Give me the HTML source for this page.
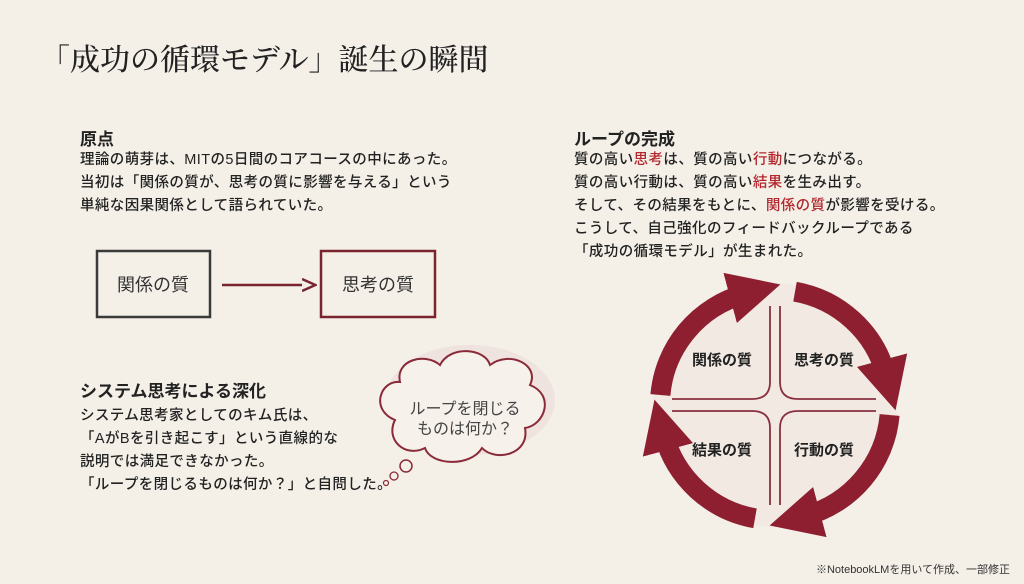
<!DOCTYPE html>
<html><head><meta charset="utf-8"><style>
body{margin:0;width:1024px;height:584px;background:#f4f0e8;overflow:hidden;position:relative;font-family:"Liberation Sans","Noto Sans CJK JP",sans-serif;color:#222}
.a{position:absolute;white-space:nowrap}
h1{position:absolute;left:40px;top:35px;margin:0;font-family:"Liberation Serif","Noto Serif CJK SC",serif;font-weight:500;font-size:30px;color:#222}
.h{font-weight:bold;font-size:17px}
.b{font-size:14.5px;line-height:23px;font-weight:500;letter-spacing:.4px}
.r{color:#b3282d}
</style></head><body>
<h1>「成功の循環モデル」誕生の瞬間</h1>
<div class="a h" style="left:80px;top:125px">原点</div>
<div class="a b" style="left:80px;top:149px">理論の萌芽は、MITの5日間のコアコースの中にあった。<br>当初は「関係の質が、思考の質に影響を与える」という<br>単純な因果関係として語られていた。</div>
<div class="a h" style="left:574px;top:125px">ループの完成</div>
<div class="a b" style="left:574px;top:149px">質の高い<span class="r">思考</span>は、質の高い<span class="r">行動</span>につながる。<br>質の高い行動は、質の高い<span class="r">結果</span>を生み出す。<br>そして、その結果をもとに、<span class="r">関係の質</span>が影響を受ける。<br>こうして、自己強化のフィードバックループである<br>「成功の循環モデル」が生まれた。</div>
<div class="a h" style="left:80px;top:377px">システム思考による深化</div>
<div class="a b" style="left:80px;top:405px">システム思考家としてのキム氏は、<br>「AがBを引き起こす」という直線的な<br>説明では満足できなかった。<br>「ループを閉じるものは何か？」と自問した。</div>
<svg class="a" style="left:0;top:0" width="1024" height="584">
<defs><marker id="m" viewBox="0 0 10 10" refX="3" refY="5" markerWidth="2.6" markerHeight="2.8" orient="auto"><path d="M0,0 L10,5 L0,10 z" fill="#8e1f30"/></marker>
<marker id="s" viewBox="0 0 10 10" refX="0" refY="5" markerWidth="6" markerHeight="6" orient="auto"><path d="M0,1 L9,5 L0,9" fill="none" stroke="#7a2430" stroke-width="1.6"/></marker></defs>
<rect x="97" y="251" width="113" height="66" fill="none" stroke="#3a3a3a" stroke-width="2.5"/>
<rect x="321" y="251" width="114" height="66" fill="none" stroke="#7a2430" stroke-width="2.5"/>
<text x="153" y="291" font-size="18" text-anchor="middle" fill="#333">関係の質</text>
<text x="378" y="291" font-size="18" text-anchor="middle" fill="#333">思考の質</text>
<line x1="222" y1="285" x2="302" y2="285" stroke="#7a2430" stroke-width="2.5" marker-end="url(#s)"/>
<ellipse cx="470" cy="400" rx="85" ry="55" fill="#ead6d6" opacity=".5"/>
<path d="M395,420 C370,410 380,380 400,382 C395,360 425,352 440,365 C450,345 485,348 490,365 C510,350 540,365 530,385 C555,395 545,425 525,428 C530,455 495,462 482,448 C470,468 430,465 425,448 C405,458 385,440 395,420 Z" fill="#f7f1ec" stroke="#8a2a38" stroke-width="2"/>
<text x="465" y="414" font-size="16" text-anchor="middle" fill="#444">ループを閉じる</text>
<text x="465" y="434" font-size="16" text-anchor="middle" fill="#444">ものは何か？</text>
<circle cx="406" cy="466" r="6" fill="none" stroke="#8a2a38" stroke-width="1.5"/>
<circle cx="394" cy="476" r="4" fill="none" stroke="#8a2a38" stroke-width="1.3"/>
<circle cx="386" cy="483" r="2.5" fill="none" stroke="#8a2a38" stroke-width="1.2"/>
<circle cx="775" cy="405" r="122" fill="#efe2dc" opacity=".5"/>
<g fill="none" stroke="#8e1f30" stroke-width="20" marker-end="url(#m)">
<path d="M660.4,395 A115,115 0 0 1 745.2,293.9"/>
<path d="M795,291.7 A115,115 0 0 1 886.1,375.2"/>
<path d="M889.6,415 A115,115 0 0 1 804.8,516.1"/>
<path d="M755,518.3 A115,115 0 0 1 663.9,434.8"/>
</g>
<g fill="none" stroke="#8a3040" stroke-width="1.8">
<path d="M770,306 L770,382 Q770,399 752,399 L672,399"/>
<path d="M780,306 L780,382 Q780,399 798,399 L876,399"/>
<path d="M770,505 L770,428 Q770,411 752,411 L672,411"/>
<path d="M780,505 L780,428 Q780,411 798,411 L876,411"/>
</g>
<g font-size="15" font-weight="bold" fill="#222" text-anchor="middle">
<text x="722" y="365">関係の質</text><text x="824" y="365">思考の質</text>
<text x="722" y="455">結果の質</text><text x="824" y="455">行動の質</text>
</g>
</svg>
<div class="a" style="right:14px;top:561px;font-size:11px;color:#333">※NotebookLMを用いて作成、一部修正</div>
</body></html>
